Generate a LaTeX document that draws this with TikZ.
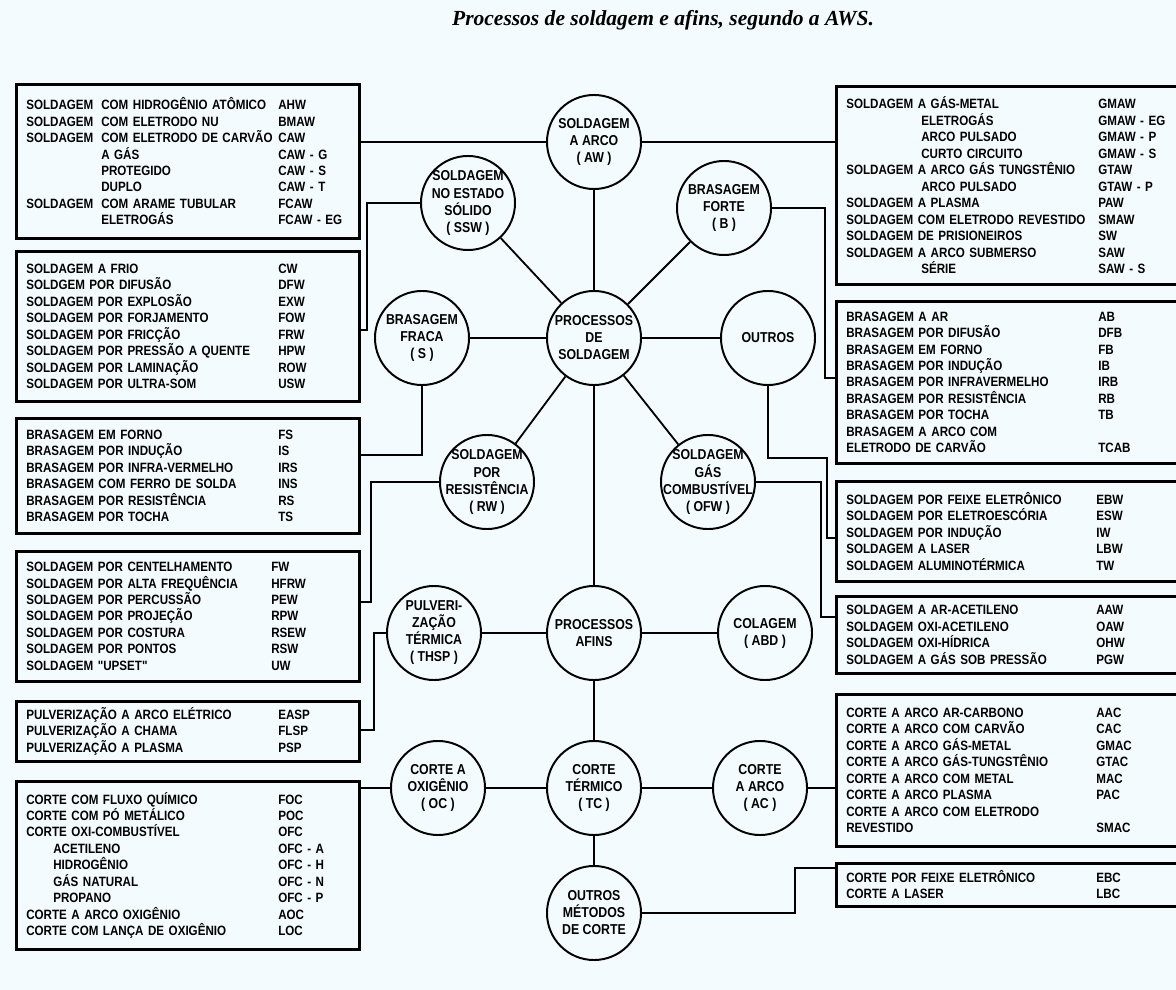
\documentclass[tikz,border=0pt]{standalone}
\usepackage{fontspec}
\newfontfamily\boxfamily{Liberation Sans}[FakeStretch=0.86]
\newfontfamily\titlefamily{Liberation Serif}
\definecolor{paper}{RGB}{244,251,254}
% columns inside the boxes
\newcommand{\kw}[2][1.875cm]{\makebox[#1][l]{#2}}
\newcommand{\prow}[3][6.3cm]{\makebox[#1][l]{#2}#3}

\begin{document}
\begin{tikzpicture}[x=0.025cm, y=-0.025cm,
    proc/.style={circle, draw, line width=1.4pt, minimum size=2.35cm, inner sep=-6pt,
      align=center, font={\boxfamily\bfseries\fontsize{10.2}{12.1}\selectfont}},
    lbox/.style={draw, line width=1.8pt, anchor=north west, inner xsep=0.25cm,
      text width=8.075cm, align=left, font={\boxfamily\bfseries\fontsize{9.6}{11.7}\selectfont}},
    rbox/.style={lbox, text width=8.375cm},
    link/.style={line width=1.3pt}]
    \fill[paper] (0,0) rectangle (1176,990);
    \useasboundingbox (0,0) rectangle (1176,990);
    \clip (0,0) rectangle (1176,990);

    \node[font={\titlefamily\bfseries\itshape\fontsize{15.3}{18}\selectfont}] (title) at (663,20)
        {Processos de soldagem e afins, segundo a AWS.};

    % circles
    \node[proc] (aw) at (594,142) {SOLDAGEM\\A ARCO\\( AW )};
    \node[proc] (ssw) at (468,203) {SOLDAGEM\\NO ESTADO\\SÓLIDO\\( SSW )};
    \node[proc] (bf) at (724,208) {BRASAGEM\\FORTE\\( B )};
    \node[proc] (bw) at (422,338) {BRASAGEM\\FRACA\\( S )};
    \node[proc] (weld) at (594,338) {PROCESSOS\\DE\\SOLDAGEM};
    \node[proc] (other) at (768,338) {OUTROS};
    \node[proc] (rw) at (487,482) {SOLDAGEM\\POR\\\makebox[1.9cm]{RESISTÊNCIA}\\( RW )};
    \node[proc] (ofw) at (708,482) {SOLDAGEM\\GÁS\\\makebox[1.9cm]{COMBUSTÍVEL}\\( OFW )};
    \node[proc] (thsp) at (434,633) {PULVERI-\\ZAÇÃO\\TÉRMICA\\( THSP )};
    \node[proc] (allied) at (594,633) {PROCESSOS\\AFINS};
    \node[proc] (abd) at (765,633) {COLAGEM\\( ABD )};
    \node[proc] (oc) at (438,788) {CORTE A\\OXIGÊNIO\\( OC )};
    \node[proc] (tc) at (594,788) {CORTE\\TÉRMICO\\( TC )};
    \node[proc] (ac) at (760,788) {CORTE\\A ARCO\\( AC )};
    \node[proc] (omc) at (594,913) {OUTROS\\MÉTODOS\\DE CORTE};

    \draw[link] (weld) -- (aw);
    \draw[link] (weld) -- (ssw);
    \draw[link] (weld) -- (bf);
    \draw[link] (weld) -- (bw);
    \draw[link] (weld) -- (other);
    \draw[link] (weld) -- (rw);
    \draw[link] (weld) -- (ofw);
    \draw[link] (weld) -- (allied);
    \draw[link] (allied) -- (thsp);
    \draw[link] (allied) -- (abd);
    \draw[link] (allied) -- (tc);
    \draw[link] (tc) -- (oc);
    \draw[link] (tc) -- (ac);
    \draw[link] (tc) -- (omc);

    % left boxes
    \node[lbox, minimum height=3.85cm] (awL) at (15,83) {
        \prow{\kw{SOLDAGEM}COM HIDROGÊNIO ATÔMICO}{AHW}\\
        \prow{\kw{SOLDAGEM}COM ELETRODO NU}{BMAW}\\
        \prow{\kw{SOLDAGEM}COM ELETRODO DE CARVÃO}{CAW}\\
        \prow{\kw{}A GÁS}{CAW - G}\\
        \prow{\kw{}PROTEGIDO}{CAW - S}\\
        \prow{\kw{}DUPLO}{CAW - T}\\
        \prow{\kw{SOLDAGEM}COM ARAME TUBULAR}{FCAW}\\
        \prow{\kw{}ELETROGÁS}{FCAW - EG}};
    \node[lbox, minimum height=3.75cm] (sswL) at (15,250) {
        \prow{SOLDAGEM A FRIO}{CW}\\
        \prow{SOLDGEM POR DIFUSÃO}{DFW}\\
        \prow{SOLDAGEM POR EXPLOSÃO}{EXW}\\
        \prow{SOLDAGEM POR FORJAMENTO}{FOW}\\
        \prow{SOLDAGEM POR FRICÇÃO}{FRW}\\
        \prow{SOLDAGEM POR PRESSÃO A QUENTE}{HPW}\\
        \prow{SOLDAGEM POR LAMINAÇÃO}{ROW}\\
        \prow{SOLDAGEM POR ULTRA-SOM}{USW}};
    \node[lbox, minimum height=2.875cm] (bwL) at (15,417) {
        \prow{BRASAGEM EM FORNO}{FS}\\
        \prow{BRASAGEM POR INDUÇÃO}{IS}\\
        \prow{BRASAGEM POR INFRA-VERMELHO}{IRS}\\
        \prow{BRASAGEM COM FERRO DE SOLDA}{INS}\\
        \prow{BRASAGEM POR RESISTÊNCIA}{RS}\\
        \prow{BRASAGEM POR TOCHA}{TS}};
    \node[lbox, minimum height=3.25cm] (rwL) at (15,550) {
        \prow[6.125cm]{SOLDAGEM POR CENTELHAMENTO}{FW}\\
        \prow[6.125cm]{SOLDAGEM POR ALTA FREQUÊNCIA}{HFRW}\\
        \prow[6.125cm]{SOLDAGEM POR PERCUSSÃO}{PEW}\\
        \prow[6.125cm]{SOLDAGEM POR PROJEÇÃO}{RPW}\\
        \prow[6.125cm]{SOLDAGEM POR COSTURA}{RSEW}\\
        \prow[6.125cm]{SOLDAGEM POR PONTOS}{RSW}\\
        \prow[6.125cm]{SOLDAGEM "UPSET"}{UW}};
    \node[lbox, minimum height=1.5cm] (thspL) at (15,700) {
        \prow{PULVERIZAÇÃO A ARCO ELÉTRICO}{EASP}\\
        \prow{PULVERIZAÇÃO A CHAMA}{FLSP}\\
        \prow{PULVERIZAÇÃO A PLASMA}{PSP}};
    \node[lbox, minimum height=4.2cm] (ocL) at (15,780) {
        \prow{CORTE COM FLUXO QUÍMICO}{FOC}\\
        \prow{CORTE COM PÓ METÁLICO}{POC}\\
        \prow{CORTE OXI-COMBUSTÍVEL}{OFC}\\
        \prow{\kw[0.675cm]{}ACETILENO}{OFC - A}\\
        \prow{\kw[0.675cm]{}HIDROGÊNIO}{OFC - H}\\
        \prow{\kw[0.675cm]{}GÁS NATURAL}{OFC - N}\\
        \prow{\kw[0.675cm]{}PROPANO}{OFC - P}\\
        \prow{CORTE A ARCO OXIGÊNIO}{AOC}\\
        \prow{CORTE COM LANÇA DE OXIGÊNIO}{LOC}};

    % right boxes
    \node[rbox, minimum height=4.95cm] (awR) at (835,85) {
        \prow{SOLDAGEM A GÁS-METAL}{GMAW}\\
        \prow{\kw{}ELETROGÁS}{GMAW - EG}\\
        \prow{\kw{}ARCO PULSADO}{GMAW - P}\\
        \prow{\kw{}CURTO CIRCUITO}{GMAW - S}\\
        \prow{SOLDAGEM A ARCO GÁS TUNGSTÊNIO}{GTAW}\\
        \prow{\kw{}ARCO PULSADO}{GTAW - P}\\
        \prow{SOLDAGEM A PLASMA}{PAW}\\
        \prow{SOLDAGEM COM ELETRODO REVESTIDO}{SMAW}\\
        \prow{SOLDAGEM DE PRISIONEIROS}{SW}\\
        \prow{SOLDAGEM A ARCO SUBMERSO}{SAW}\\
        \prow{\kw{}SÉRIE}{SAW - S}};
    \node[rbox, minimum height=4.05cm] (bfR) at (835,300) {
        \prow{BRASAGEM A AR}{AB}\\
        \prow{BRASAGEM POR DIFUSÃO}{DFB}\\
        \prow{BRASAGEM EM FORNO}{FB}\\
        \prow{BRASAGEM POR INDUÇÃO}{IB}\\
        \prow{BRASAGEM POR INFRAVERMELHO}{IRB}\\
        \prow{BRASAGEM POR RESISTÊNCIA}{RB}\\
        \prow{BRASAGEM POR TOCHA}{TB}\\
        \prow{BRASAGEM A ARCO COM}{}\\
        \prow{ELETRODO DE CARVÃO}{TCAB}};
    \node[rbox, minimum height=2.5cm] (otherR) at (835,480) {
        \prow[6.25cm]{SOLDAGEM POR FEIXE ELETRÔNICO}{EBW}\\
        \prow[6.25cm]{SOLDAGEM POR ELETROESCÓRIA}{ESW}\\
        \prow[6.25cm]{SOLDAGEM POR INDUÇÃO}{IW}\\
        \prow[6.25cm]{SOLDAGEM A LASER}{LBW}\\
        \prow[6.25cm]{SOLDAGEM ALUMINOTÉRMICA}{TW}};
    \node[rbox, minimum height=1.925cm] (ofwR) at (835,595) {
        \prow[6.25cm]{SOLDAGEM A AR-ACETILENO}{AAW}\\
        \prow[6.25cm]{SOLDAGEM OXI-ACETILENO}{OAW}\\
        \prow[6.25cm]{SOLDAGEM OXI-HÍDRICA}{OHW}\\
        \prow[6.25cm]{SOLDAGEM A GÁS SOB PRESSÃO}{PGW}};
    \node[rbox, minimum height=3.8cm] (acR) at (835,693) {
        \prow[6.25cm]{CORTE A ARCO AR-CARBONO}{AAC}\\
        \prow[6.25cm]{CORTE A ARCO COM CARVÃO}{CAC}\\
        \prow[6.25cm]{CORTE A ARCO GÁS-METAL}{GMAC}\\
        \prow[6.25cm]{CORTE A ARCO GÁS-TUNGSTÊNIO}{GTAC}\\
        \prow[6.25cm]{CORTE A ARCO COM METAL}{MAC}\\
        \prow[6.25cm]{CORTE A ARCO PLASMA}{PAC}\\
        \prow[6.25cm]{CORTE A ARCO COM ELETRODO}{}\\
        \prow[6.25cm]{REVESTIDO}{SMAC}};
    \node[rbox, minimum height=1.075cm] (omcR) at (835,862) {
        \prow[6.25cm]{CORTE POR FEIXE ELETRÔNICO}{EBC}\\
        \prow[6.25cm]{CORTE A LASER}{LBC}};

    % circles to boxes
    \draw[link] (aw) -- (awL.east |- aw);
    \draw[link] (aw) -- (awR.west |- aw);
    \draw[link] (ssw) -- (367,203) |- (sswL.east |- 0,330);
    \draw[link] (bw) -- (422,455) -- (bwL.east |- 0,455);
    \draw[link] (rw) -- (371,482) |- (rwL.east |- 0,602);
    \draw[link] (thsp) -- (374,633) |- (thspL.east |- 0,730);
    \draw[link] (oc) -- (ocL.east |- oc);
    \draw[link] (bf) -- (825,208) |- (bfR.west |- 0,378);
    \draw[link] (other) -- (768,458) -| (827,538) -- (otherR.west |- 0,538);
    \draw[link] (ofw) -- (821,482) |- (ofwR.west |- 0,617);
    \draw[link] (ac) -- (acR.west |- ac);
    \draw[link] (omc) -- (795,913) |- (omcR.west |- 0,868);
\end{tikzpicture}
\end{document}
